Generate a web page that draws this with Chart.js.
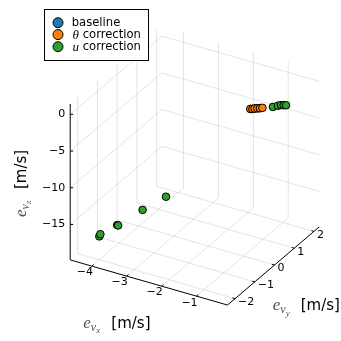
<!DOCTYPE html>
<html>
<head>
<meta charset="utf-8">
<script src="https://cdn.jsdelivr.net/npm/chart.js@4/dist/chart.umd.min.js"></script>
<style>
body { margin: 0; background: #fff; }
#wrap { width: 341px; height: 341px; }
</style>
</head>
<body>
<div id="wrap"><canvas id="myChart"></canvas></div>
<script>
// velocity errors (m/s): e_vx, e_vy, e_vz for each run
var baselineX = [-0.88, -0.84, -0.80, -0.75, -0.70];
var baselineY = [0.16, 0.20, 0.24, 0.29, 0.33];
var baselineZ = [0.02, 0.00, 0.01, -0.01, 0.00];

var thetaX = [-0.89, -0.85, -0.81, -0.76, -0.71, -0.66];
var thetaY = [0.15, 0.19, 0.23, 0.28, 0.32, 0.36];
var thetaZ = [0.03, -0.02, 0.02, 0.00, -0.02, 0.01];

var uX = [-4.00, -3.97, -3.49, -3.46, -2.76, -2.09, -0.46, -0.38, -0.33, -0.27, -0.22];
var uY = [-2.0, -2.0, -2.0, -2.0, -2.0, -2.0, 0.54, 0.65, 0.72, 0.75, 0.78];
var uZ = [-16.65, -16.31, -14.41, -14.42, -11.35, -8.64, 0.0, 0.02, 0.0, 0.01, 0.0];

var seriesNames = ['baseline', 'θ correction', 'u correction'];
var seriesColors = ['rgb(31, 119, 180)', 'rgb(255, 127, 14)', 'rgb(44, 160, 44)'];

var xTicks = [-4, -3, -2, -1];
var yTicks = [-2, -1, 0, 1, 2];
var zTicks = [-15, -10, -5, 0];
var xRange = [-4.62, -0.11];
var yRange = [-2.38, 2.27];
var zRange = [-19.83, 1.42];

// camera: where the (xmin, ymin, zmin) corner sits and how one unit on each axis moves on screen
var view = { ox: 67.3, oy: 262.5, ex: [35.9, 10.3], ey: [20.3, -17.3], ez: [0, -7.553] };

function proj(x, y, z) {
    var a = x - xRange[0], b = y - yRange[0], c = z - zRange[0];
    return {
        x: view.ox + a * view.ex[0] + b * view.ey[0] + c * view.ez[0],
        y: view.oy + a * view.ex[1] + b * view.ey[1] + c * view.ez[1]
    };
}

function points(xs, ys, zs) {
    return xs.map(function (x, i) { return proj(x, ys[i], zs[i]); });
}

function fmt(v) {
    return v < 0 ? '\u2212' + Math.abs(v) : String(v);
}

function mathLabel(ctx, x, y, sub) {
    ctx.fillStyle = '#555';
    ctx.textAlign = 'left';
    ctx.textBaseline = 'alphabetic';
    ctx.font = 'italic 17px "Liberation Serif"';
    ctx.fillText('e', x, y);
    ctx.font = 'italic 12px "Liberation Serif"';
    ctx.fillText('v', x + 7.5, y + 3);
    ctx.font = 'italic 9px "Liberation Serif"';
    ctx.fillText(sub, x + 13, y + 5.5);
    ctx.fillStyle = '#000';
    ctx.font = '15px "DejaVu Sans"';
    ctx.fillText('[m/s]', x + 28, y);
}

var box3d = {
    id: 'box3d',
    beforeDatasetsDraw: function (chart) {
        var ctx = chart.ctx, sx = chart.scales.x, sy = chart.scales.y;
        function pt(x, y, z) {
            var p = proj(x, y, z);
            return [sx.getPixelForValue(p.x), sy.getPixelForValue(p.y)];
        }
        function seg(a, b) {
            ctx.beginPath();
            ctx.moveTo(a[0], a[1]);
            ctx.lineTo(b[0], b[1]);
            ctx.stroke();
        }
        ctx.save();
        ctx.lineWidth = 1;
        ctx.strokeStyle = 'rgba(0, 0, 0, 0.11)';
        // floor
        xTicks.forEach(function (t) { seg(pt(t, yRange[0], zRange[0]), pt(t, yRange[1], zRange[0])); });
        yTicks.forEach(function (t) { seg(pt(xRange[0], t, zRange[0]), pt(xRange[1], t, zRange[0])); });
        // left wall
        yTicks.forEach(function (t) { seg(pt(xRange[0], t, zRange[0]), pt(xRange[0], t, zRange[1])); });
        zTicks.forEach(function (t) { seg(pt(xRange[0], yRange[0], t), pt(xRange[0], yRange[1], t)); });
        // back wall
        xTicks.forEach(function (t) { seg(pt(t, yRange[1], zRange[0]), pt(t, yRange[1], zRange[1])); });
        zTicks.forEach(function (t) { seg(pt(xRange[0], yRange[1], t), pt(xRange[1], yRange[1], t)); });

        // axes
        ctx.strokeStyle = '#000';
        seg(pt(xRange[0], yRange[0], zRange[0]), pt(xRange[0], yRange[0], zRange[1]));
        seg(pt(xRange[0], yRange[0], zRange[0]), pt(xRange[1], yRange[0], zRange[0]));
        seg(pt(xRange[1], yRange[0], zRange[0]), pt(xRange[1], yRange[1], zRange[0]));

        ctx.fillStyle = '#000';
        ctx.font = '11px "DejaVu Sans"';
        zTicks.forEach(function (t) {
            var p = pt(xRange[0], yRange[0], t);
            seg(p, [p[0] + 3, p[1]]);
            ctx.textAlign = 'right';
            ctx.textBaseline = 'middle';
            ctx.fillText(fmt(t), p[0] - 5, p[1]);
        });
        xTicks.forEach(function (t) {
            var p = pt(t, yRange[0], zRange[0]);
            seg(p, [p[0] + 1.8, p[1] - 1.6]);
            ctx.textAlign = 'center';
            ctx.textBaseline = 'middle';
            ctx.fillText(fmt(t), p[0] - 7, p[1] + 6.5);
        });
        yTicks.forEach(function (t) {
            var p = pt(xRange[1], t, zRange[0]);
            seg(p, [p[0] - 2.6, p[1] - 0.8]);
            ctx.textAlign = 'left';
            ctx.textBaseline = 'middle';
            ctx.fillText(fmt(t), p[0] + 3, p[1] + 3.5);
        });

        mathLabel(ctx, 83.3, 327.5, 'x');
        mathLabel(ctx, 272.7, 310, 'y');
        ctx.translate(25.5, 217);
        ctx.rotate(-Math.PI / 2);
        mathLabel(ctx, 0, 0, 'z');
        ctx.restore();
    },
    afterDraw: function (chart) {
        var ctx = chart.ctx;
        ctx.save();
        ctx.fillStyle = '#fff';
        ctx.fillRect(44.5, 9.5, 104, 51);
        ctx.strokeStyle = '#000';
        ctx.lineWidth = 1;
        ctx.strokeRect(44.5, 9.5, 104, 51);
        var rows = [22.7, 34.6, 46.7];
        seriesNames.forEach(function (name, i) {
            ctx.beginPath();
            ctx.arc(58, rows[i], 5, 0, Math.PI * 2);
            ctx.fillStyle = seriesColors[i];
            ctx.fill();
            ctx.strokeStyle = '#000';
            ctx.stroke();
            ctx.fillStyle = '#000';
            ctx.textAlign = 'left';
            ctx.textBaseline = 'middle';
            var sp = name.indexOf(' ');
            if (sp > 0 && name.charAt(0) !== 'b') {
                ctx.font = 'italic 13px "Liberation Serif"';
                ctx.fillText(name.slice(0, sp), 72.5, rows[i] + 0.5);
                ctx.font = '11.6px "DejaVu Sans"';
                ctx.fillText(name.slice(sp + 1), 82.7, rows[i]);
            } else {
                ctx.font = '11.6px "DejaVu Sans"';
                ctx.fillText(name, 71.7, rows[i]);
            }
        });
        ctx.restore();
    }
};

var ctx = document.getElementById('myChart').getContext('2d');
var myChart = new Chart(ctx, {
    type: 'scatter',
    data: {
        datasets: [{
            label: seriesNames[0],
            data: points(baselineX, baselineY, baselineZ),
            backgroundColor: seriesColors[0],
            order: 2
        }, {
            label: seriesNames[1],
            data: points(thetaX, thetaY, thetaZ),
            backgroundColor: seriesColors[1],
            order: 1
        }, {
            label: seriesNames[2],
            data: points(uX, uY, uZ),
            backgroundColor: seriesColors[2],
            order: 0
        }]
    },
    options: {
        responsive: true,
        maintainAspectRatio: false,
        animation: false,
        layout: { padding: 0 },
        elements: {
            point: { radius: 3.8, borderWidth: 1, borderColor: '#000', hoverRadius: 3.8 }
        },
        datasets: { scatter: { clip: false } },
        scales: {
            x: { type: 'linear', min: 0, max: 341, display: false },
            y: { type: 'linear', min: 0, max: 341, reverse: true, display: false }
        },
        plugins: { legend: { display: false }, tooltip: { enabled: false } }
    },
    plugins: [box3d]
});
</script>
</body>
</html>
